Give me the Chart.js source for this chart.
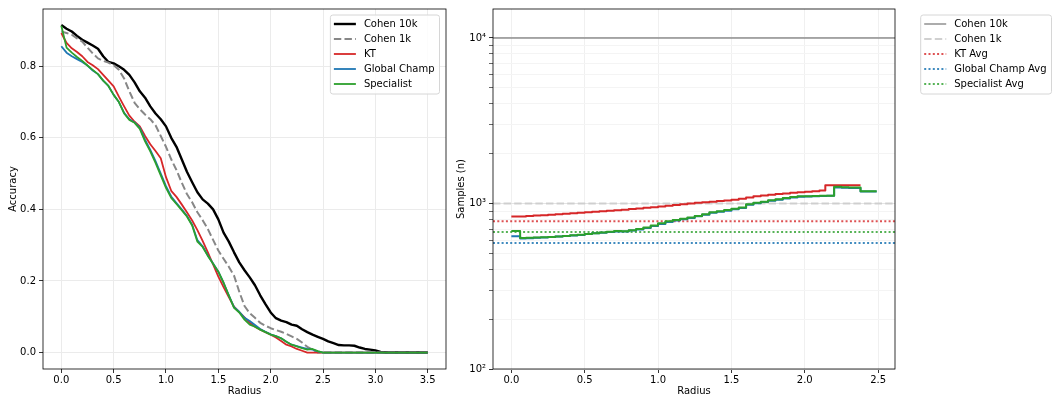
<!DOCTYPE html>
<html>
<head>
<meta charset="utf-8">
<script src="https://cdn.jsdelivr.net/npm/chart.js@4.4.1/dist/chart.umd.min.js"></script>
<style>
  html, body { margin: 0; padding: 0; background: #fff; }
  #wrap { position: relative; width: 1055px; height: 401px; }
  #accChart { position: absolute; left: 0; top: 0; }
  #sampleChart { position: absolute; left: 450px; top: 0; }
</style>
</head>
<body>
<div id="wrap">
  <canvas id="accChart" width="450" height="401"></canvas>
  <canvas id="sampleChart" width="605" height="401"></canvas>
</div>
<script>
// ---- left panel: accuracy vs radius ----
const radius = [0, 0.05, 0.1, 0.15, 0.2, 0.25, 0.3, 0.35, 0.4, 0.45, 0.5, 0.55, 0.6, 0.65, 0.7, 0.75, 0.8, 0.85, 0.9, 0.95,
  1.0, 1.05, 1.1, 1.15, 1.2, 1.25, 1.3, 1.35, 1.4, 1.45, 1.5, 1.55, 1.6, 1.65, 1.7, 1.75, 1.8, 1.85, 1.9, 1.95,
  2.0, 2.05, 2.1, 2.15, 2.2, 2.25, 2.3, 2.35, 2.4, 2.45, 2.5, 2.55, 2.6, 2.65, 2.7, 2.75, 2.8, 2.85, 2.9, 2.95,
  3.0, 3.05, 3.1, 3.15, 3.2, 3.25, 3.3, 3.35, 3.4, 3.45, 3.5];

const cohen10kAcc = [0.915, 0.905, 0.897, 0.885, 0.874, 0.866, 0.858, 0.849, 0.828, 0.812, 0.808, 0.800, 0.790, 0.776, 0.755, 0.730, 0.712, 0.688, 0.668, 0.652,
  0.632, 0.600, 0.575, 0.540, 0.505, 0.476, 0.448, 0.428, 0.416, 0.400, 0.372, 0.335, 0.310, 0.280, 0.252, 0.230, 0.210, 0.188, 0.160, 0.135,
  0.112, 0.096, 0.089, 0.085, 0.078, 0.075, 0.065, 0.057, 0.050, 0.044, 0.038, 0.031, 0.026, 0.021, 0.020, 0.020, 0.019, 0.014, 0.010, 0.008,
  0.006, 0.002, 0, 0, 0, 0, 0, 0, 0, 0, 0];

const cohen1kAcc = [0.897, 0.893, 0.888, 0.878, 0.869, 0.852, 0.836, 0.822, 0.815, 0.810, 0.803, 0.790, 0.766, 0.730, 0.698, 0.680, 0.665, 0.652, 0.635, 0.605,
  0.575, 0.540, 0.510, 0.475, 0.443, 0.420, 0.392, 0.370, 0.345, 0.315, 0.285, 0.262, 0.240, 0.215, 0.170, 0.130, 0.110, 0.097, 0.083, 0.075,
  0.068, 0.063, 0.058, 0.052, 0.045, 0.038, 0.028, 0.016, 0.008, 0, 0, 0, 0, 0, 0, 0, 0, 0, 0, 0,
  0, 0, 0, 0, 0, 0, 0, 0, 0, 0, 0];

const ktAcc = [0.893, 0.865, 0.850, 0.840, 0.828, 0.812, 0.803, 0.792, 0.776, 0.760, 0.744, 0.715, 0.688, 0.662, 0.645, 0.632, 0.605, 0.582, 0.563, 0.543,
  0.490, 0.452, 0.435, 0.414, 0.392, 0.369, 0.342, 0.312, 0.280, 0.246, 0.212, 0.183, 0.155, 0.128, 0.113, 0.098, 0.083, 0.072, 0.064, 0.057,
  0.050, 0.042, 0.032, 0.022, 0.017, 0.010, 0.005, 0, 0, 0, 0, 0, 0, 0, 0, 0, 0, 0, 0, 0,
  0, 0, 0, 0, 0, 0, 0, 0, 0, 0, 0];

const champAcc = [0.856, 0.838, 0.828, 0.820, 0.812, 0.802, 0.788, 0.778, 0.760, 0.745, 0.720, 0.700, 0.670, 0.652, 0.643, 0.628, 0.595, 0.566, 0.535, 0.500,
  0.465, 0.436, 0.418, 0.400, 0.382, 0.357, 0.314, 0.297, 0.271, 0.249, 0.226, 0.195, 0.160, 0.127, 0.114, 0.097, 0.088, 0.077, 0.066, 0.058,
  0.051, 0.046, 0.040, 0.030, 0.022, 0.018, 0.014, 0.010, 0.008, 0.003, 0, 0, 0, 0, 0, 0, 0, 0, 0, 0,
  0, 0, 0, 0, 0, 0, 0, 0, 0, 0, 0];

const specialistAcc = [0.913, 0.852, 0.838, 0.826, 0.815, 0.802, 0.790, 0.778, 0.760, 0.745, 0.720, 0.700, 0.668, 0.650, 0.642, 0.625, 0.590, 0.562, 0.530, 0.495,
  0.460, 0.432, 0.415, 0.398, 0.380, 0.355, 0.310, 0.295, 0.270, 0.248, 0.226, 0.195, 0.160, 0.125, 0.112, 0.092, 0.078, 0.072, 0.064, 0.057,
  0.050, 0.046, 0.040, 0.030, 0.022, 0.017, 0.012, 0.008, 0.010, 0.004, 0, 0, 0, 0, 0, 0, 0, 0, 0, 0,
  0, 0, 0, 0, 0, 0, 0, 0, 0, 0, 0];

// ---- right panel: samples vs radius (log) ----
const ktRadius = [0, 0.05, 0.1, 0.15, 0.2, 0.25, 0.3, 0.35, 0.4, 0.45, 0.5, 0.55, 0.6, 0.65, 0.7, 0.75, 0.8, 0.85, 0.9, 0.95,
  1.0, 1.05, 1.1, 1.15, 1.2, 1.25, 1.3, 1.35, 1.4, 1.45, 1.5, 1.55, 1.6, 1.65, 1.7, 1.75, 1.8, 1.85, 1.9, 1.95,
  2.0, 2.05, 2.1, 2.14, 2.2, 2.25, 2.3, 2.35, 2.38];
const ktSamples = [835, 835, 840, 845, 850, 855, 860, 866, 872, 878, 884, 890, 897, 904, 911, 918, 926, 934, 942, 950,
  960, 970, 980, 990, 1000, 1010, 1018, 1026, 1034, 1042, 1052, 1068, 1085, 1105, 1118, 1128, 1140, 1150, 1160, 1168,
  1176, 1184, 1198, 1290, 1290, 1290, 1290, 1290, 1290];

const champRadius = [0, 0.06, 0.1, 0.15, 0.2, 0.25, 0.3, 0.35, 0.4, 0.45, 0.5, 0.55, 0.6, 0.65, 0.7, 0.75, 0.8, 0.85, 0.9, 0.95,
  1.0, 1.05, 1.1, 1.15, 1.2, 1.25, 1.3, 1.35, 1.4, 1.45, 1.5, 1.55, 1.6, 1.65, 1.7, 1.75, 1.8, 1.85, 1.9, 1.95,
  2.0, 2.05, 2.1, 2.15, 2.2, 2.25, 2.3, 2.38, 2.45, 2.49];
const champSamples = [633, 615, 617, 620, 623, 627, 631, 635, 640, 646, 653, 660, 666, 672, 678, 678, 687, 697, 711, 730,
  752, 772, 790, 803, 818, 836, 855, 878, 892, 905, 922, 940, 982, 1002, 1020, 1038, 1052, 1070, 1088, 1100,
  1102, 1105, 1108, 1112, 1250, 1245, 1242, 1182, 1182, 1182];
const specialistSamples = [681, 618, 620, 622, 625, 628, 632, 637, 642, 648, 655, 662, 668, 674, 681, 680, 690, 700, 715, 735,
  760, 780, 795, 808, 822, 840, 860, 885, 898, 912, 928, 945, 990, 1010, 1025, 1045, 1060, 1080, 1095, 1105,
  1107, 1110, 1112, 1115, 1260, 1255, 1250, 1185, 1185, 1185];

const cohen10kN = 10000;
const cohen1kN = 1000;
const ktAvgN = 782;
const champAvgN = 577;
const specialistAvgN = 672;

const sampleTicks = [100, 200, 300, 400, 500, 600, 700, 800, 900, 1000, 2000, 3000, 4000, 5000, 6000, 7000, 8000, 9000, 10000];
const sampleTickLabels = { 100: '10\u00B2', 1000: '10\u00B3', 10000: '10\u2074' };

function pts(xs, ys) {
  return xs.map((x, i) => ({ x: x, y: ys[i] }));
}

Chart.defaults.font.family = "'DejaVu Sans'";
Chart.defaults.font.size = 10;
Chart.defaults.color = '#000';

const frame = {
  id: 'frame',
  afterDatasetsDraw(chart) {
    const { ctx, chartArea: a } = chart;
    ctx.save();
    ctx.strokeStyle = '#000';
    ctx.lineWidth = 0.8;
    ctx.strokeRect(a.left, a.top, a.right - a.left, a.bottom - a.top);
    ctx.restore();
  }
};

const legendBox = {
  id: 'legendBox',
  afterDraw(chart, args, opts) {
    const { ctx, chartArea } = chart;
    const items = chart.data.datasets.filter(ds => ds.inLegend);
    ctx.save();
    ctx.font = "10px 'DejaVu Sans'";
    const textW = Math.max(...items.map(ds => ctx.measureText(ds.label).width));
    const w = 33.5 + textW + 5;
    const h = 15 * items.length + 4;
    const left = opts.inside ? chartArea.right - opts.dx - w : chartArea.right + opts.dx;
    const top = chartArea.top + opts.dy;
    ctx.beginPath();
    ctx.roundRect(left, top, w, h, 2.5);
    ctx.fillStyle = 'rgba(255,255,255,0.85)';
    ctx.fill();
    ctx.strokeStyle = '#d6d6d6';
    ctx.lineWidth = 1;
    ctx.stroke();
    items.forEach((ds, i) => {
      const y = top + 1.5 + 15 * (i + 0.5);
      ctx.beginPath();
      ctx.strokeStyle = ds.borderColor;
      ctx.lineWidth = ds.borderWidth;
      ctx.setLineDash(ds.borderDash || []);
      ctx.moveTo(left + 3.5, y);
      ctx.lineTo(left + 25.5, y);
      ctx.stroke();
      ctx.setLineDash([]);
      ctx.fillStyle = '#000';
      ctx.textBaseline = 'middle';
      ctx.fillText(ds.label, left + 33.5, y);
    });
    ctx.restore();
  }
};

const lineBase = { pointRadius: 0, tension: 0, fill: false, borderJoinStyle: 'round' };

new Chart(document.getElementById('accChart'), {
  type: 'line',
  data: {
    datasets: [
      { ...lineBase, label: 'Cohen 10k', data: pts(radius, cohen10kAcc), borderColor: '#000000', borderWidth: 2.4, inLegend: true, order: 5 },
      { ...lineBase, label: 'Cohen 1k', data: pts(radius, cohen1kAcc), borderColor: '#878787', borderWidth: 2, borderDash: [7.4, 3.2], inLegend: true, order: 4 },
      { ...lineBase, label: 'KT', data: pts(radius, ktAcc), borderColor: '#d62728', borderWidth: 1.8, inLegend: true, order: 3 },
      { ...lineBase, label: 'Global Champ', data: pts(radius, champAcc), borderColor: '#1f77b4', borderWidth: 1.8, inLegend: true, order: 2 },
      { ...lineBase, label: 'Specialist', data: pts(radius, specialistAcc), borderColor: '#2ca02c', borderWidth: 1.8, inLegend: true, order: 1 }
    ]
  },
  options: {
    responsive: false,
    animation: false,
    layout: { padding: { top: 8, right: 4, left: 0, bottom: 0 } },
    plugins: {
      legend: { display: false },
      tooltip: { enabled: false },
      legendBox: { inside: true, dx: 6.5, dy: 6 }
    },
    scales: {
      x: {
        type: 'linear', min: -0.175, max: 3.675,
        afterFit(s) { s.height = 32; },
        ticks: { stepSize: 0.5, includeBounds: false, padding: 1, maxRotation: 0, autoSkip: false, callback: v => v.toFixed(1) },
        grid: { color: '#ebebeb', lineWidth: 1, tickLength: 4, tickColor: '#000', tickWidth: 0.8 },
        border: { display: false },
        title: { display: true, text: 'Radius', padding: { top: 0, bottom: 4 } }
      },
      y: {
        type: 'linear', min: -0.046, max: 0.96,
        afterFit(s) { s.width = 43; },
        ticks: { stepSize: 0.2, includeBounds: false, padding: 3, callback: v => v.toFixed(1) },
        grid: { color: '#ebebeb', lineWidth: 1, tickLength: 4, tickColor: '#000', tickWidth: 0.8 },
        border: { display: false },
        title: { display: true, text: 'Accuracy', padding: { top: 7, bottom: 0 } }
      }
    }
  },
  plugins: [frame, legendBox]
});

const xLo = -0.125, xHi = 2.615;
const refLine = n => [{ x: xLo, y: n }, { x: xHi, y: n }];

new Chart(document.getElementById('sampleChart'), {
  type: 'line',
  data: {
    datasets: [
      { ...lineBase, label: 'KT', data: pts(ktRadius, ktSamples), borderColor: '#d62728', borderWidth: 2, stepped: 'before', order: 3 },
      { ...lineBase, label: 'Global Champ', data: pts(champRadius, champSamples), borderColor: '#1f77b4', borderWidth: 2, stepped: 'before', order: 2 },
      { ...lineBase, label: 'Specialist', data: pts(champRadius, specialistSamples), borderColor: '#2ca02c', borderWidth: 2, stepped: 'before', order: 1 },
      { ...lineBase, label: 'Cohen 10k', data: refLine(cohen10kN), borderColor: 'rgba(128,128,128,0.65)', borderWidth: 2, inLegend: true, order: 10 },
      { ...lineBase, label: 'Cohen 1k', data: refLine(cohen1kN), borderColor: 'rgba(205,205,205,0.95)', borderWidth: 2, borderDash: [7.4, 3.2], inLegend: true, order: 9 },
      { ...lineBase, label: 'KT Avg', data: refLine(ktAvgN), borderColor: 'rgba(214,39,40,0.8)', borderWidth: 2, borderDash: [2, 2.3], inLegend: true, order: 8 },
      { ...lineBase, label: 'Global Champ Avg', data: refLine(champAvgN), borderColor: 'rgba(31,119,180,0.85)', borderWidth: 2, borderDash: [2, 2.3], inLegend: true, order: 7 },
      { ...lineBase, label: 'Specialist Avg', data: refLine(specialistAvgN), borderColor: 'rgba(44,160,44,0.8)', borderWidth: 2, borderDash: [2, 2.3], inLegend: true, order: 6 }
    ]
  },
  options: {
    responsive: false,
    animation: false,
    layout: { padding: { top: 8, right: 160, left: 0, bottom: 0 } },
    plugins: {
      legend: { display: false },
      tooltip: { enabled: false },
      legendBox: { inside: false, dx: 25.7, dy: 6 }
    },
    scales: {
      x: {
        type: 'linear', min: xLo, max: xHi,
        afterFit(s) { s.height = 32; },
        ticks: { stepSize: 0.5, includeBounds: false, padding: 1, maxRotation: 0, autoSkip: false, callback: v => v.toFixed(1) },
        grid: { color: '#f0f0f0', lineWidth: 1, tickLength: 4, tickColor: '#000', tickWidth: 0.8 },
        border: { display: false },
        title: { display: true, text: 'Radius', padding: { top: 0, bottom: 4 } }
      },
      y: {
        type: 'logarithmic', min: 100, max: 14960,
        afterFit(s) { s.width = 43; },
        afterBuildTicks(s) { s.ticks = sampleTicks.map(v => ({ value: v })); },
        ticks: { autoSkip: false, padding: 3, callback: v => sampleTickLabels[v] || '' },
        grid: {
          color: c => (sampleTickLabels[c.tick && c.tick.value] ? '#e4e4e4' : '#f4f4f4'),
          lineWidth: 1, tickLength: 4, tickColor: '#000',
          tickWidth: c => (sampleTickLabels[c.tick && c.tick.value] ? 0.8 : 0.6)
        },
        border: { display: false },
        title: { display: true, text: 'Samples (n)', padding: { top: 5, bottom: 0 } }
      }
    }
  },
  plugins: [frame, legendBox]
});
</script>
</body>
</html>
